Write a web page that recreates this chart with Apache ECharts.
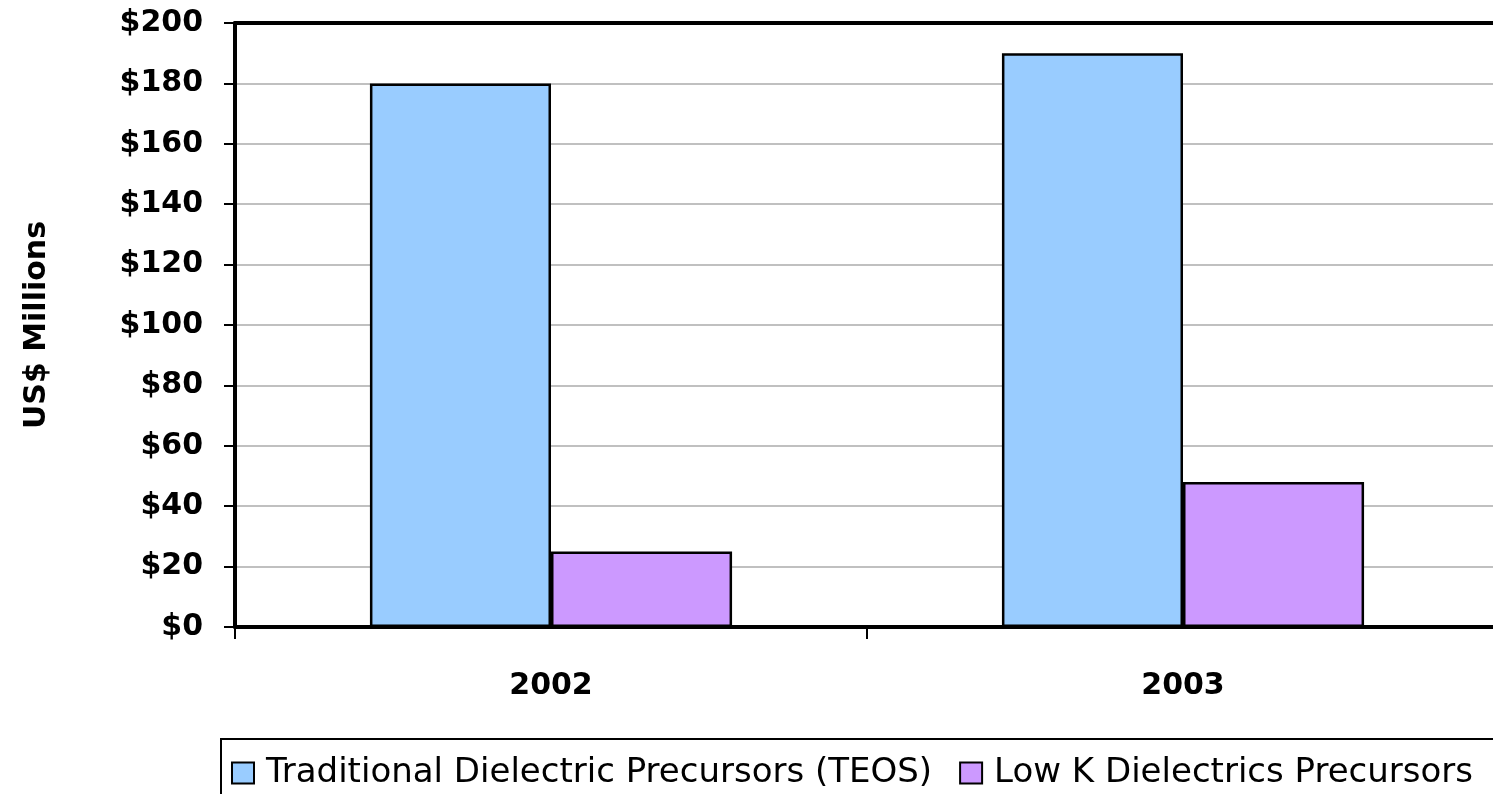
<!DOCTYPE html>
<html>
<head>
<meta charset="utf-8">
<script src="https://cdn.jsdelivr.net/npm/echarts@6/dist/echarts.min.js"></script>
<style>
  html, body { margin: 0; padding: 0; background: #fff; overflow: hidden; }
  #chart { width: 1499px; height: 794px; }
</style>
</head>
<body>
<div id="chart"></div>
<script>
const categories = ['2002', '2003']
const teosValues = [180, 190]
const lowKValues = [25, 48]
const seriesNames = ['Traditional Dielectric Precursors (TEOS)', 'Low K Dielectrics Precursors']
const yMin = 0
const yMax = 200
const yStep = 20

const font = '"DejaVu Sans", Arial, sans-serif'
const textColor = '#000'

const chart = echarts.init(document.getElementById('chart'))

const option = {
  animation: false,
  textStyle: { fontFamily: font },
  grid: {
    left: 235,
    top: 23,
    right: 0,
    bottom: 167,
  },
  legend: {
    left: 221,
    top: 739,
    width: 1300,
    padding: [17, 40, 30, 10],
    itemGap: 27,
    itemWidth: 22,
    itemHeight: 21,
    icon: 'rect',
    borderColor: '#000',
    borderWidth: 2,
    textStyle: {
      fontFamily: font,
      fontSize: 34,
      color: textColor,
      padding: [0, 0, 0, 7],
    },
    data: seriesNames,
  },
  xAxis: [
    {
      type: 'category',
      data: categories,
      axisLine: { lineStyle: { color: '#000', width: 4 } },
      axisTick: { show: true, length: 12, lineStyle: { color: '#000', width: 2 } },
      axisLabel: {
        color: textColor,
        fontSize: 30,
        fontWeight: 'bold',
        margin: 44,
      },
    },
    {
      type: 'category',
      data: categories,
      position: 'top',
      axisLine: { lineStyle: { color: '#000', width: 4 } },
      axisTick: { show: false },
      axisLabel: { show: false },
    },
  ],
  yAxis: {
    type: 'value',
    min: yMin,
    max: yMax,
    interval: yStep,
    name: 'US$ Millions',
    nameLocation: 'middle',
    nameGap: 183,
    nameRotate: 90,
    nameTextStyle: {
      color: textColor,
      fontSize: 30,
      fontWeight: 'bold',
    },
    axisLine: { show: true, lineStyle: { color: '#000', width: 4 } },
    axisTick: { show: true, length: 11, lineStyle: { color: '#000', width: 2 } },
    axisLabel: {
      color: textColor,
      fontSize: 30,
      fontWeight: 'bold',
      margin: 32,
      formatter: v => '$' + v,
    },
    splitLine: { lineStyle: { color: '#c0c0c0', width: 2 } },
  },
  series: [
    {
      name: seriesNames[0],
      type: 'bar',
      data: teosValues,
      barGap: '0%',
      barCategoryGap: '42.7%',
      itemStyle: { color: '#99ccff', borderColor: '#000', borderWidth: 2.5 },
    },
    {
      name: seriesNames[1],
      type: 'bar',
      data: lowKValues,
      itemStyle: { color: '#cc99ff', borderColor: '#000', borderWidth: 2.5 },
    },
  ],
}

chart.setOption(option)
</script>
</body>
</html>
